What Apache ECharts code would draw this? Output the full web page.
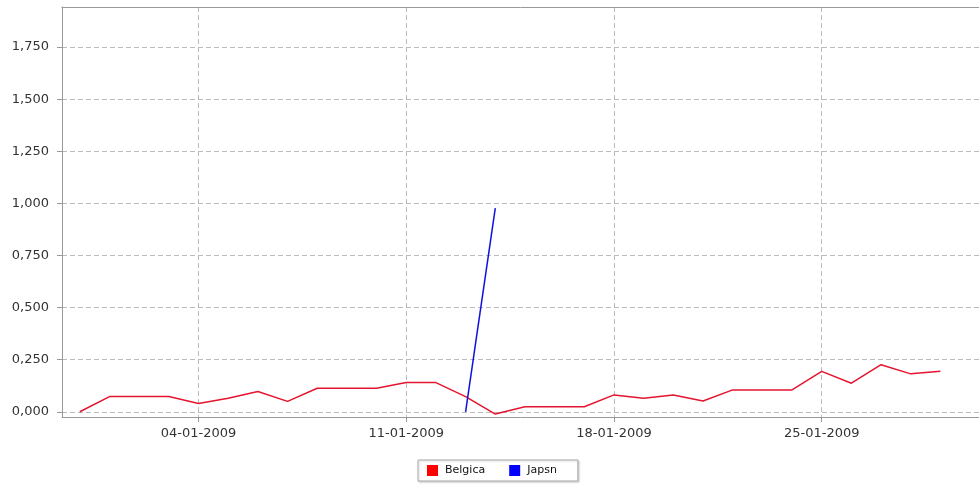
<!DOCTYPE html>
<html>
<head>
<meta charset="utf-8">
<script src="https://cdn.jsdelivr.net/npm/echarts@6/dist/echarts.min.js"></script>
<style>html,body{margin:0;padding:0;background:#fff}#c{width:979px;height:490px}</style>
</head>
<body>
<div id="c"></div>
<script>
const belgicaDates = ['31-12-2008','01-01-2009','02-01-2009','03-01-2009','04-01-2009','05-01-2009','06-01-2009','07-01-2009','08-01-2009','09-01-2009','10-01-2009','11-01-2009','12-01-2009','13-01-2009','14-01-2009','15-01-2009','16-01-2009','17-01-2009','18-01-2009','19-01-2009','20-01-2009','21-01-2009','22-01-2009','23-01-2009','24-01-2009','25-01-2009','26-01-2009','27-01-2009','28-01-2009','29-01-2009'];
const belgicaValues = [0.000,0.073,0.073,0.073,0.040,0.065,0.097,0.050,0.113,0.113,0.113,0.140,0.140,0.073,-0.011,0.024,0.024,0.024,0.081,0.065,0.081,0.052,0.105,0.105,0.105,0.194,0.137,0.226,0.182,0.194];
const japsnDates = ['13-01-2009','14-01-2009'];
const japsnValues = [0.000,0.977];
const xTickDates = ['04-01-2009','11-01-2009','18-01-2009','25-01-2009'];
const yTickValues = [0,0.25,0.5,0.75,1.0,1.25,1.5,1.75];

const DAY = 86400000;
function parseDate(s){const p=s.split('-');return Date.UTC(+p[2],+p[1]-1,+p[0]);}
const base = parseDate(xTickDates[0]);
function dayIndex(s){return Math.round((parseDate(s)-base)/DAY);}
function fmtDay(d){const t=new Date(base+Math.round(d)*DAY);const dd=String(t.getUTCDate()).padStart(2,'0');const mm=String(t.getUTCMonth()+1).padStart(2,'0');return dd+'-'+mm+'-'+t.getUTCFullYear();}
const xTicks = xTickDates.map(dayIndex);

const font = {fontFamily:'DejaVu Sans, sans-serif', fontSize:13, color:'#333'};
const gridLine = {color:'#bbb', type:[5,3], width:1};
const chart = echarts.init(document.getElementById('c'), null, {renderer:'canvas'});
chart.setOption({
  animation:false,
  backgroundColor:'#fff',
  grid:{left:62, right:0, top:7, bottom:73},
  legend:{
    left:418, top:460, icon:'rect', itemWidth:11, itemHeight:11, itemGap:24,
    borderColor:'#aaa', borderWidth:1, padding:[5,21,5,9],
    shadowColor:'rgba(0,0,0,0.18)', shadowBlur:2, shadowOffsetX:1, shadowOffsetY:1,
    backgroundColor:'#fff',
    textStyle:{fontFamily:'DejaVu Sans, sans-serif', fontSize:11, color:'#111', padding:[0,0,0,2]},
    data:['Belgica','Japsn']
  },
  xAxis:[{
    type:'value', min:-4.6, max:26.3,
    axisLine:{onZero:false, lineStyle:{color:'#999', width:1}},
    axisTick:{show:true, length:5, customValues:xTicks, lineStyle:{color:'#999'}},
    axisLabel:Object.assign({}, font, {margin:10, customValues:xTicks, formatter:v=>fmtDay(v)}),
    splitLine:{show:true, lineStyle:gridLine}
  },{
    type:'value', position:'top', min:-4.6, max:26.3,
    axisLine:{show:true, onZero:false, lineStyle:{color:'#999', width:1}},
    axisTick:{show:false}, axisLabel:{show:false}, splitLine:{show:false}
  }],
  yAxis:{
    type:'value', min:-0.025, max:1.942,
    axisLine:{show:true, onZero:false, lineStyle:{color:'#999', width:1}},
    axisTick:{show:true, length:5, customValues:yTickValues, lineStyle:{color:'#999'}},
    axisLabel:Object.assign({}, font, {margin:13, customValues:yTickValues, formatter:v=>v.toFixed(3).replace('.',',')}),
    splitLine:{show:true, lineStyle:gridLine}
  },
  series:[
    {name:'Belgica', type:'line', showSymbol:false, color:'#ff0000', lineStyle:{width:1.5, color:'#e5152f'},
     data:belgicaDates.map((d,i)=>[dayIndex(d), belgicaValues[i]])},
    {name:'Japsn', type:'line', showSymbol:false, color:'#0000ff', lineStyle:{width:1.5, color:'#1111dd'},
     data:japsnDates.map((d,i)=>[dayIndex(d), japsnValues[i]])}
  ]
});
</script>
</body>
</html>
